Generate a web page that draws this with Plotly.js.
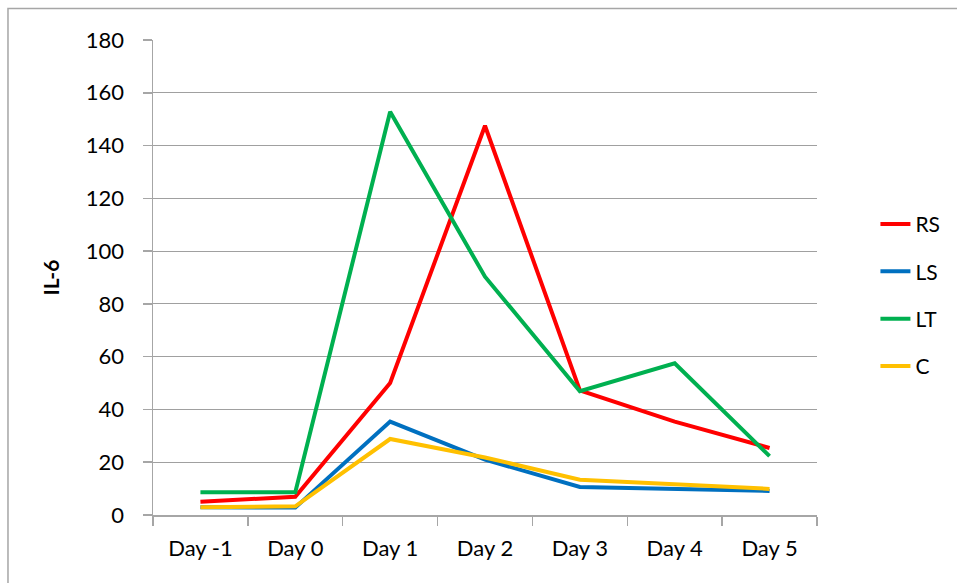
<!DOCTYPE html>
<html>
<head>
<meta charset="utf-8">
<script src="https://cdn.plot.ly/plotly-3.0.1.min.js"></script>
<style>html,body{margin:0;padding:0;background:#fff;}#chart{width:957px;height:583px;}</style>
</head>
<body>
<div id="chart"></div>
<script>
const days = ["Day -1", "Day 0", "Day 1", "Day 2", "Day 3", "Day 4", "Day 5"];
const RS = [5.0, 6.9, 50, 147.5, 47.2, 35.4, 25.4];
const LS = [2.9, 2.8, 35.4, 21.0, 10.6, 9.8, 9.1];
const LT = [8.6, 8.6, 152.8, 90.3, 46.9, 57.5, 22.3];
const C  = [2.9, 3.3, 28.8, 21.8, 13.4, 11.6, 9.9];
const seriesNames = ["RS", "LS", "LT", "C"];
const seriesValues = [RS, LS, LT, C];
const seriesColors = ["#FF0000", "#0070C0", "#00B050", "#FFC000"];

const font = "Lato, 'Noto Sans', sans-serif";
const traces = seriesNames.map((n, i) => ({
  type: "scatter", mode: "lines", name: n, x: days, y: seriesValues[i],
  legendgroup: n,
  line: {color: seriesColors[i], width: 4}
}));

const layout = {
  width: 957, height: 583,
  margin: {l: 153, r: 140, t: 40, b: 68},
  paper_bgcolor: "#fff", plot_bgcolor: "#fff",
  font: {family: font, size: 22, color: "#000"},
  showlegend: true,
  legend: {x: 1.088, xanchor: "left", y: 0.655, yanchor: "top",
           font: {family: font, size: 21, color: "#000"},
           tracegroupgap: 17, bgcolor: "rgba(0,0,0,0)"},
  xaxis: {type: "category", range: [-0.5, 6.5], showline: true, linecolor: "#A6A6A6", linewidth: 1.5,
          ticks: "outside", tickson: "boundaries", ticklen: 9, tickcolor: "#A6A6A6", tickwidth: 1.5,
          showgrid: false, zeroline: false, fixedrange: true, ticklabelstandoff: 13,
          tickfont: {family: font, size: 22}},
  yaxis: {range: [0, 180], dtick: 20, tick0: 0, showline: true, linecolor: "#A6A6A6", linewidth: 1.5,
          ticks: "outside", ticklen: 9, tickcolor: "#A6A6A6", tickwidth: 1.5,
          showgrid: true, gridcolor: "#A0A0A0", gridwidth: 1.2, zeroline: false,
          tickfont: {family: font, size: 22}, ticklabelstandoff: 14,
          title: {text: "<b>IL-6</b>", font: {family: font, size: 21}, standoff: 20}},
  shapes: [{type: "rect", xref: "paper", yref: "paper",
            x0: -0.2184, x1: 1.3, y0: -0.3, y1: 1.0663,
            line: {color: "#A6A6A6", width: 1.5}, fillcolor: "rgba(0,0,0,0)", layer: "below"}]
};

Plotly.newPlot("chart", traces, layout, {displayModeBar: false, staticPlot: true});
</script>
</body>
</html>
